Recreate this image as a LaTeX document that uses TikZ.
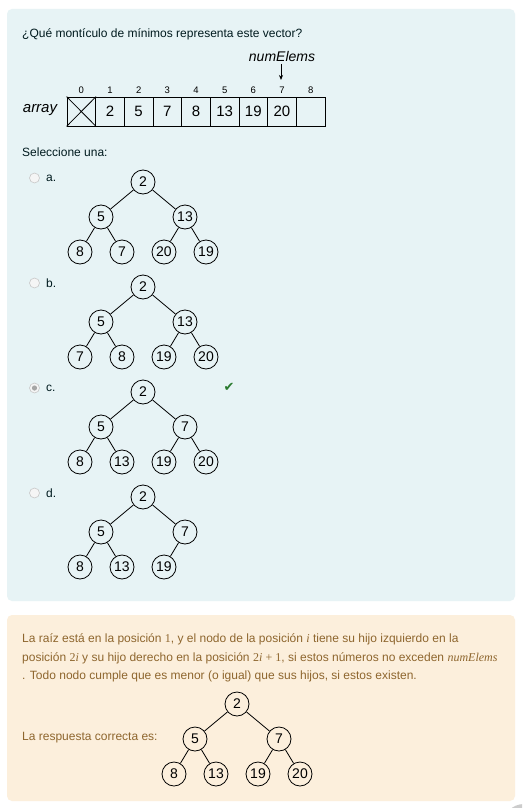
\documentclass[tikz,border=0pt]{standalone}
\usepackage{fontspec}
\setmainfont{Liberation Sans}
\newfontfamily\serifit{Liberation Serif}
\newfontfamily\symb{DejaVu Sans}
\usetikzlibrary{arrows.meta}
\definecolor{qbg}{HTML}{E7F3F5}
\definecolor{fbbg}{HTML}{FCEFDC}
\definecolor{fbtext}{HTML}{8E662E}
\definecolor{qtext}{HTML}{001A1E}
\definecolor{okgreen}{HTML}{2A7A2E}
\tikzset{
  hnode/.style={circle, draw, line width=0.8pt, minimum size=24pt, inner sep=0pt, font=\fontsize{14}{14}\selectfont},
  hedge/.style={line width=0.8pt},
  cell/.style={draw, line width=0.8pt, minimum width=28.67pt, minimum height=29pt, inner sep=0pt, font=\fontsize{15}{15}\selectfont},
  idx/.style={font=\fontsize{9.5}{9.5}\selectfont, inner sep=0pt},
  qtxt/.style={font=\fontsize{12}{14}\selectfont, text=qtext, inner sep=0pt, anchor=west},
  fbtxt/.style={font=\fontsize{12}{14}\selectfont, text=fbtext, inner sep=0pt, anchor=west},
  radio/.style={circle, draw=black!22, fill=white!96!black, line width=0.6pt, minimum size=10pt, inner sep=0pt},
}
\newcommand\myit[1]{{\serifit\itshape #1}}
\newcommand\myrm[1]{{\serifit #1}}
% #1 prefix, #2 x, #3 y, #4 left, #5 right, #6-#9 leaves
\newcommand\heaptree[9]{%
  \node[hnode] (#1r) at (#2,#3) {2};
  \node[hnode] (#1l) at (#2-42,#3+35) {#4};
  \node[hnode] (#1R) at (#2+42,#3+35) {#5};
  \node[hnode] (#1a) at (#2-63,#3+70) {#6};
  \node[hnode] (#1b) at (#2-21,#3+70) {#7};
  \node[hnode] (#1c) at (#2+21,#3+70) {#8};
  \node[hnode] (#1d) at (#2+63,#3+70) {#9};
  \draw[hedge] (#1r) -- (#1l);
  \draw[hedge] (#1r) -- (#1R);
  \draw[hedge] (#1l) -- (#1a);
  \draw[hedge] (#1l) -- (#1b);
  \draw[hedge] (#1R) -- (#1c);
  \draw[hedge] (#1R) -- (#1d);
}
\begin{document}
\begin{tikzpicture}[x=1pt,y=-1pt]
\useasboundingbox (0,0) rectangle (522,808);
\fill[white] (0,0) rectangle (522,808);
% panels
\fill[qbg, rounded corners=5pt] (7,9) rectangle (515,601);
\fill[fbbg, rounded corners=5pt] (7,615) rectangle (515,801);
\begin{scope}
\clip (0,0) rectangle (522,808);
\fill[black!20!blue!5!white, fill=gray!40] (524,825) circle (21);
\end{scope}

\node[qtxt] (q) at (22,34) {¿Qué montículo de mínimos representa este vector?};

% array
\foreach \i in {0,...,8} {
  \node[cell] (c\i) at ({81.3+28.67*\i},111.5) {};
  \node[idx] (i\i) at ({81.3+28.67*\i},90) {\i};
}
\foreach \i/\v in {1/2,2/5,3/7,4/8,5/13,6/19,7/20} {
  \node[font=\fontsize{15}{15}\selectfont, inner sep=0pt] at (c\i) {\v};
}
\draw[line width=0.8pt] (c0.north west) -- (c0.south east);
\draw[line width=0.8pt] (c0.south west) -- (c0.north east);
\node[font=\fontsize{15}{15}\selectfont\itshape, inner sep=0pt] (arr) at (40,110) {array};
\node[font=\fontsize{14}{14}\selectfont\itshape, inner sep=0pt] (ne) at (282,56) {numElems};
\coordinate (arrtip) at (281,80);
\draw[line width=0.8pt, -{Stealth[length=5pt,width=4pt]}] (281,64) -- (arrtip);

\node[qtxt] (sel) at (22,152) {Seleccione una:};

% options
\foreach \y/\l in {178/a,283/b,388/c,493/d} {
  \node[radio] (rad\l) at (34.5,\y) {};
  \node[qtxt] (lab\l) at (46,\y) {\l.};
}
\fill[black!35] (radc) circle (2.6pt);

\heaptree{a}{143}{182}{5}{13}{8}{7}{20}{19}
\heaptree{b}{143}{287}{5}{13}{7}{8}{19}{20}
\heaptree{c}{143}{392}{5}{7}{8}{13}{19}{20}
\node[text=okgreen, font=\symb\fontsize{13}{13}\selectfont, inner sep=0pt] (chk) at (229,387) {✔};

% option d
\node[hnode] (dr) at (143,497) {2};
\node[hnode] (dl) at (101,532) {5};
\node[hnode] (dR) at (185,532) {7};
\node[hnode] (da) at (80,567) {8};
\node[hnode] (db) at (122,567) {13};
\node[hnode] (dc) at (164,567) {19};
\draw[hedge] (dr) -- (dl);
\draw[hedge] (dr) -- (dR);
\draw[hedge] (dl) -- (da);
\draw[hedge] (dl) -- (db);
\draw[hedge] (dR) -- (dc);

% feedback
\node[fbtxt] (f1) at (22,639) {La raíz está en la posición \myrm{1}, y el nodo de la posición \myit{i} tiene su hijo izquierdo en la};
\node[fbtxt] (f2) at (22,658) {posición \myrm{2}\myit{i} y su hijo derecho en la posición \myrm{2}\myit{i} \myrm{+ 1}, si estos números no exceden \myit{numElems}};
\node[fbtxt] (f3) at (22,676) {. Todo nodo cumple que es menor (o igual) que sus hijos, si estos existen.};
\node[fbtxt] (f4) at (22,738) {La respuesta correcta es:};
\heaptree{e}{237}{704}{5}{7}{8}{13}{19}{20}
\end{tikzpicture}
\end{document}
